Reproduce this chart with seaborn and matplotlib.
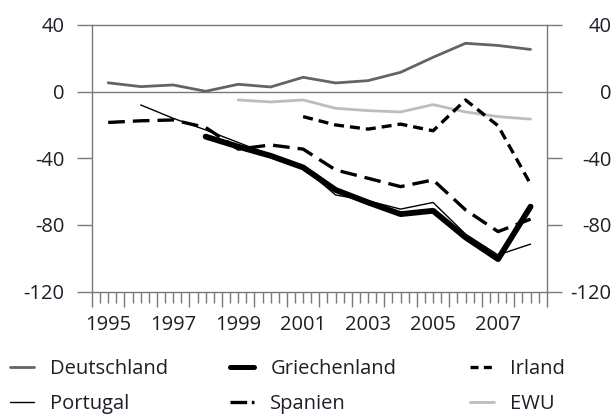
import matplotlib
matplotlib.use("Agg")
import matplotlib.pyplot as plt
import seaborn as sns
import pandas as pd
import numpy as np
from matplotlib.lines import Line2D
from matplotlib.ticker import MultipleLocator
from matplotlib.transforms import offset_copy, blended_transform_factory

# Netto-Auslandsvermögensposition in % des BIP
years = list(range(1995, 2009))
deutschland = [5.3, 3.0, 4.0, 0.2, 4.4, 2.8, 8.6, 5.2, 6.6, 11.6, 20.6, 29.0, 27.7, 25.3]
griechenland = [np.nan, np.nan, np.nan, -27.0, -33.0, -38.5, -45.5, -59.0, -66.5, -73.5, -71.5, -87.5, -100.5, -69.0]
irland = [np.nan] * 6 + [-15.0, -20.0, -22.5, -19.5, -23.5, -5.0, -20.5, -55.5]
portugal = [np.nan, -8.0, -16.0, -23.0, -30.5, -38.0, -45.5, -62.0, -65.5, -70.5, -66.5, -85.5, -98.0, -91.5]
spanien = [-18.5, -17.5, -17.0, -21.5, -34.5, -32.0, -34.5, -47.0, -52.0, -57.0, -53.0, -71.0, -84.0, -76.5]
ewu = [np.nan] * 4 + [-5.0, -6.2, -5.0, -10.0, -11.4, -12.2, -7.8, -12.2, -15.0, -16.5]

df = pd.DataFrame({
    "Jahr": years,
    "Deutschland": deutschland,
    "Griechenland": griechenland,
    "Irland": irland,
    "Portugal": portugal,
    "Spanien": spanien,
    "EWU": ewu,
})

sns.set_style("white")
plt.rcParams["font.family"] = ["Open Sans", "DejaVu Sans"]
plt.rcParams["font.size"] = 14.5
text_color = "#1e1e28"
axis_color = "#7a7a7a"

fig = plt.figure(figsize=(6.13, 4.16), dpi=100)
ax = fig.add_axes([0.150, 0.299, 0.742, 0.641])

styles = {
    "Deutschland": dict(color="#646464", lw=2.0, ls="-"),
    "EWU": dict(color="#bdbdbd", lw=2.0, ls="-"),
    "Irland": dict(color="black", lw=2.4, ls=(0, (3.0, 1.8))),
    "Spanien": dict(color="black", lw=2.4, ls=(0, (5.0, 2.4))),
    "Portugal": dict(color="black", lw=1.0, ls="-"),
    "Griechenland": dict(color="black", lw=4.2, ls="-"),
}

for name in ["Deutschland", "EWU", "Irland", "Spanien", "Portugal", "Griechenland"]:
    st = styles[name]
    sns.lineplot(data=df, x="Jahr", y=name, ax=ax, color=st["color"],
                 linewidth=st["lw"], linestyle=st["ls"], legend=False)

ax.axhline(0, color=axis_color, lw=1.0, zorder=1)

ax.set_xlim(1994.5, 2008.5)
ax.set_ylim(-120, 40)
ax.set_xlabel("")
ax.set_ylabel("")

for side in ["left", "right", "top", "bottom"]:
    ax.spines[side].set_visible(True)
    ax.spines[side].set_color(axis_color)
    ax.spines[side].set_linewidth(1.0)

# y axis: labels on both sides
ax.set_yticks([40, 0, -40, -80, -120])
ax.set_yticklabels(["40", "0", "-40", "-80", "-120"])
ax.tick_params(axis="y", which="major", direction="out", length=10.8, width=1.0,
               color=axis_color, left=True, right=True, labelleft=True,
               labelright=True, labelcolor=text_color, pad=9)

# x axis: long ticks between years, short quarterly ticks
ax.xaxis.set_major_locator(MultipleLocator(1, offset=0.5))
ax.xaxis.set_minor_locator(MultipleLocator(0.25))
ax.tick_params(axis="x", which="major", direction="out", length=10.8, width=1.0,
               color=axis_color, labelbottom=False, bottom=True)
ax.tick_params(axis="x", which="minor", direction="out", length=8.0, width=1.0,
               color=axis_color, bottom=True)

secax = ax.secondary_xaxis("bottom")
secax.set_xticks(years[::2])
secax.set_xticklabels([str(y) for y in years[::2]])
secax.tick_params(length=0, pad=17, labelcolor=text_color)
secax.spines["bottom"].set_visible(False)

fig.canvas.draw()
# right-side labels are right-aligned near the figure edge
trans = blended_transform_factory(fig.transFigure, ax.transData)
for tick in ax.yaxis.get_major_ticks():
    tick.label2.set_horizontalalignment("right")
    tick.label2.set_transform(offset_copy(trans, fig=fig, x=-1, y=0, units="points"))
    tick.label2.set_x(1.0)

# legend: three columns of two entries
def handle(name):
    st = styles[name]
    ls = st["ls"]
    lw = st["lw"]
    if name == "Spanien":
        ls = (0, (5.0, 1.4, 1.0, 1.4))
    if name == "Irland":
        ls = (0, (2.4, 1.6))
    if name == "Griechenland":
        lw = 3.6
    return Line2D([], [], color=st["color"], lw=lw, linestyle=ls)

columns = [("Deutschland", "Portugal"), ("Griechenland", "Spanien"), ("Irland", "EWU")]
xpos = [10 / 613, 230 / 613, 470 / 613]
for (a, b), x in zip(columns, xpos):
    leg = fig.legend(handles=[handle(a), handle(b)], labels=[a, b],
                     loc="center left", bbox_to_anchor=(x, 0.071),
                     frameon=False, borderpad=0, borderaxespad=0,
                     handlelength=1.2, handletextpad=0.8, labelspacing=0.72)
    for t in leg.get_texts():
        t.set_color(text_color)

fig.savefig("out.png", dpi=100)
